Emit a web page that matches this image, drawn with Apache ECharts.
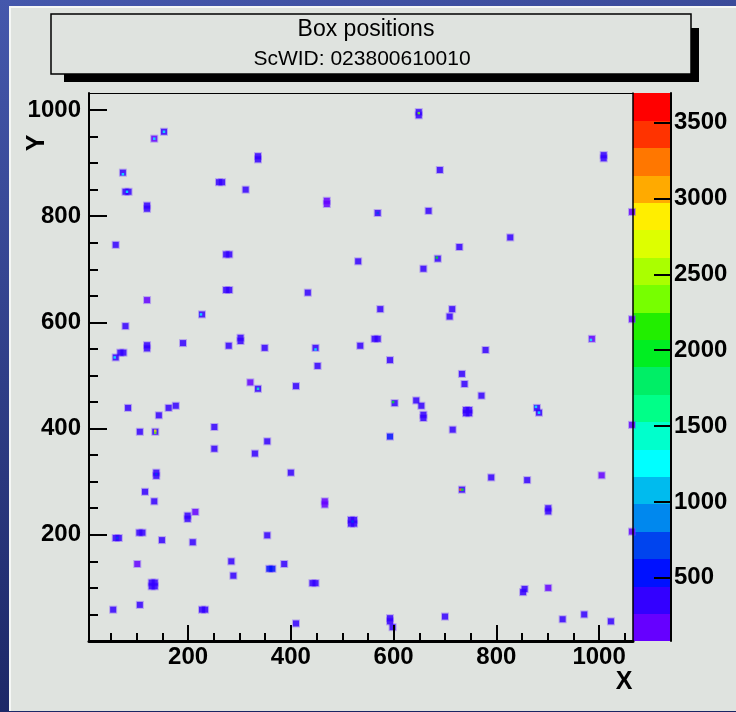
<!DOCTYPE html>
<html><head><meta charset="utf-8">
<script src="https://cdn.jsdelivr.net/npm/echarts@6/dist/echarts.min.js"></script>
<style>html,body{margin:0;padding:0;background:#2a3a85}#c{width:736px;height:712px}</style>
</head><body><div id="c"></div>
<script>
// ---- data ----
const titleLines = ['Box positions', 'ScWID: 023800610010'];
const xName = 'X';
const yName = 'Y';
const xRange = [7, 1066];
const yRange = [0, 1032];
const zRange = [84, 3695];
const xTicks = [200, 400, 600, 800, 1000];
const yTicks = [200, 400, 600, 800, 1000];
const zTicks = [500, 1000, 1500, 2000, 2500, 3000, 3500];
// contour palette, lowest level first (20 levels)
const palette = ['#6600ff','#3300ff','#0011ff','#0044ee','#0088ee','#00bbee','#00ffff','#00ffcc','#00ff88','#00ee66',
                 '#00ee22','#22ee00','#77ff00','#aaff00','#ddff00','#ffee00','#ffaa00','#ff7700','#ff3300','#ff0000'];
// filled bins (box clusters)
const boxX = [153,134,336,336,73,260,266,312,78,84,120,120,470,470,59,274,280,531,274,280,433,120,227,78,120,120,190,279,302,302,349,448,535,68,74,59,452,
  649,649,1009,1009,690,569,668,1064,827,728,686,658,574,714,709,1064,563,569,986,779,593,
  321,336,410,83,162,176,143,106,136,251,251,354,330,138,138,400,116,134,466,466,199,199,214,517,523,517,523,59,65,105,111,149,209,354,101,284,288,358,364,387,129,135,129,135,442,448,54,106,227,233,410,
  733,738,771,602,644,654,658,658,741,747,741,747,879,883,1064,715,593,790,860,1005,733,901,901,1064,855,852,901,593,593,598,700,929,971,1023];
const boxY = [959,946,913,907,882,864,864,850,846,846,820,814,829,823,746,728,728,715,661,661,656,642,615,593,557,551,561,556,571,565,552,552,556,543,543,534,518,
  996,990,915,909,887,806,810,808,760,742,720,701,625,625,611,606,569,569,569,548,529,
  487,475,480,439,439,443,425,394,394,403,362,376,353,317,311,317,281,263,263,257,236,230,243,228,228,221,221,194,194,204,204,190,186,199,145,150,123,136,136,145,110,110,103,103,109,109,59,68,59,59,33,
  503,484,462,448,453,443,426,420,435,435,429,429,439,430,407,398,385,308,303,312,285,250,244,206,98,92,100,43,37,26,46,41,50,37];
const boxZ = [380,180,380,380,380,380,380,380,380,380,380,380,180,180,380,380,380,380,380,380,380,180,380,380,380,380,380,380,380,380,380,380,380,380,380,380,380,
  380,380,380,380,380,380,380,180,380,380,380,380,380,380,380,180,380,380,180,380,380,
  180,380,380,380,380,380,380,380,380,380,380,380,380,380,380,380,380,380,180,180,380,380,180,380,380,380,380,380,380,380,380,380,380,380,180,380,380,520,520,380,380,380,380,380,380,380,380,380,380,380,380,
  380,380,380,380,380,380,380,380,380,380,380,380,380,380,180,380,520,380,380,180,380,380,380,180,380,380,180,380,380,380,380,380,380,380];
// hottest single bins inside some boxes
const hotX = [153,134,73,81,225,448,57,649,569,684,984,336,136,136,138,520,62,599,877,883,730,734];
const hotY = [959,946,879,846,615,549,534,994,806,722,567,475,396,392,314,225,194,450,441,430,285,285];
const hotZ = [1300,1300,1300,1200,1200,1300,1300,2300,800,1900,1300,1400,2800,2400,800,700,700,1900,1300,1300,3300,2000];

// ---- derived ----
const nLev = palette.length;
const step = (zRange[1] - zRange[0]) / nLev;
const bands = palette.map((c, i) => [zRange[0] + i * step, zRange[0] + (i + 1) * step, i]);
const pieces = bands.map(b => ({ gte: b[0], lt: b[1], color: palette[b[2]] }));
const boxes = boxX.map((x, i) => [x, boxY[i], boxZ[i]]);
const hots = hotX.map((x, i) => [x, hotY[i], hotZ[i]]);
function minorOf(range, majors) {
  const out = [];
  for (let v = Math.ceil(range[0] / 50) * 50; v <= range[1]; v += 50) if (!majors.includes(v) && v > range[0]) out.push(v);
  return out;
}
const xMinor = minorOf(xRange, xTicks);
const yMinor = minorOf(yRange, yTicks);

const FONT = 'Liberation Sans';
const lbl = { fontFamily: FONT, fontWeight: 'bold', fontSize: 24, color: '#000', formatter: v => String(v) };

const chart = echarts.init(document.getElementById('c'), null, { renderer: 'canvas' });
chart.setOption({
  animation: false,
  grid: [
    { left: 89, top: 93, width: 544, height: 548 },
    { left: 633, top: 93, width: 38, height: 548 }
  ],
  xAxis: [
    { type: 'value', gridIndex: 0, min: xRange[0], max: xRange[1], position: 'bottom', z: 10,
      axisLine: { onZero: false, lineStyle: { color: '#000', width: 3 } },
      axisTick: { inside: true, length: 16, customValues: xTicks, lineStyle: { color: '#000', width: 2 } },
      axisLabel: Object.assign({ customValues: xTicks, margin: 4 }, lbl),
      splitLine: { show: false } },
    { type: 'value', gridIndex: 0, min: xRange[0], max: xRange[1], position: 'bottom', z: 10,
      axisLine: { show: false, onZero: false },
      axisTick: { inside: true, length: 8, customValues: xMinor, lineStyle: { color: '#000', width: 2 } },
      axisLabel: { show: false }, splitLine: { show: false } },
    { type: 'value', gridIndex: 0, min: xRange[0], max: xRange[1], position: 'top', z: 10,
      axisLine: { onZero: false, lineStyle: { color: '#000', width: 1 } },
      axisTick: { show: false }, axisLabel: { show: false }, splitLine: { show: false } },
    { type: 'value', gridIndex: 1, min: 0, max: 1, show: false }
  ],
  yAxis: [
    { type: 'value', gridIndex: 0, min: yRange[0], max: yRange[1], position: 'left', z: 10,
      axisLine: { onZero: false, lineStyle: { color: '#000', width: 2 } },
      axisTick: { inside: true, length: 18, customValues: yTicks, lineStyle: { color: '#000', width: 2 } },
      axisLabel: Object.assign({ customValues: yTicks, margin: 8 }, lbl),
      splitLine: { show: false } },
    { type: 'value', gridIndex: 0, min: yRange[0], max: yRange[1], position: 'left', z: 10,
      axisLine: { show: false, onZero: false },
      axisTick: { inside: true, length: 9, customValues: yMinor, lineStyle: { color: '#000', width: 2 } },
      axisLabel: { show: false }, splitLine: { show: false } },
    { type: 'value', gridIndex: 0, min: yRange[0], max: yRange[1], position: 'right', z: 10,
      axisLine: { onZero: false, lineStyle: { color: '#000', width: 1.5 } },
      axisTick: { show: false }, axisLabel: { show: false }, splitLine: { show: false } },
    { type: 'value', gridIndex: 1, min: zRange[0], max: zRange[1], position: 'right', z: 10,
      axisLine: { onZero: false, lineStyle: { color: '#000', width: 2 } },
      axisTick: { inside: true, length: 17, customValues: zTicks, lineStyle: { color: '#000', width: 2 } },
      axisLabel: Object.assign({ customValues: zTicks, margin: 3 }, lbl),
      splitLine: { show: false } }
  ],
  visualMap: {
    type: 'piecewise', show: false, seriesIndex: [1, 2], dimension: 2, pieces: pieces
  },
  series: [
    { type: 'scatter', xAxisIndex: 0, yAxisIndex: 0, symbol: 'rect', symbolSize: 8, data: boxes,
      itemStyle: { color: 'rgba(120,70,255,0.5)' }, silent: true },
    { type: 'scatter', xAxisIndex: 0, yAxisIndex: 0, symbol: 'rect', symbolSize: 6, data: boxes, silent: true },
    { type: 'scatter', xAxisIndex: 0, yAxisIndex: 0, symbol: 'rect', symbolSize: 2.5, data: hots, silent: true },
    { type: 'custom', xAxisIndex: 3, yAxisIndex: 3, data: bands, clip: false, silent: true,
      encode: { y: [0, 1] },
      renderItem: function (params, api) {
        const lo = api.value(0), hi = api.value(1), idx = api.value(2);
        const p1 = api.coord([0, hi]);
        const p2 = api.coord([1, lo]);
        return { type: 'rect', shape: { x: p1[0], y: Math.floor(p1[1]), width: p2[0] - p1[0], height: Math.ceil(p2[1]) - Math.floor(p1[1]) },
                 style: { fill: palette[idx] } };
      } }
  ],
  graphic: [
    { type: 'rect', z: -10, shape: { x: 0, y: 0, width: 736, height: 712 },
      style: { fill: new echarts.graphic.LinearGradient(0, 0, 0.25, 1, [{ offset: 0, color: '#4558ac' }, { offset: 1, color: '#1a2563' }]) } },
    { type: 'rect', z: -9, shape: { x: 9, y: 6, width: 727, height: 705 }, style: { fill: '#dfe3df' } },
    { type: 'polyline', z: -8, shape: { points: [[10, 711], [10, 7], [736, 7]] }, style: { stroke: '#f5f7f5', lineWidth: 2, fill: null } },
    { type: 'rect', z: -7, shape: { x: 64, y: 28, width: 635, height: 54 }, style: { fill: '#000' } },
    { type: 'rect', z: -6, shape: { x: 51, y: 14, width: 640, height: 60 }, style: { fill: '#dfe3df', stroke: '#000', lineWidth: 1.5 } },
    { type: 'text', z: 5, x: 366, y: 30, style: { text: titleLines[0], font: '23px "Liberation Sans"', fill: '#000', align: 'center', verticalAlign: 'middle' } },
    { type: 'text', z: 5, x: 362, y: 59, style: { text: titleLines[1], font: '21px "Liberation Sans"', fill: '#000', align: 'center', verticalAlign: 'middle' } },
    { type: 'text', z: 5, x: 624, y: 682, style: { text: xName, font: 'bold 25px "Liberation Sans"', fill: '#000', align: 'center', verticalAlign: 'middle' } },
    { type: 'text', z: 5, x: 37, y: 143, rotation: Math.PI / 2, style: { text: yName, font: 'bold 25px "Liberation Sans"', fill: '#000', align: 'center', verticalAlign: 'middle' } }
  ]
});
</script></body></html>
